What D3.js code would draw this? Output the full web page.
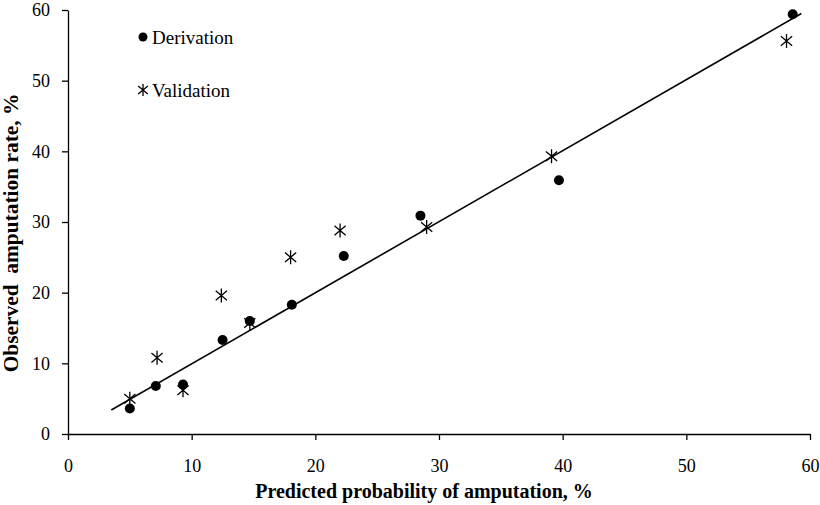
<!DOCTYPE html>
<html><head><meta charset="utf-8">
<script src="https://cdn.jsdelivr.net/npm/d3@7"></script>
<style>
body{margin:0;background:#fff;}
svg{display:block;font-family:"Liberation Serif","Times New Roman",serif;}
</style></head>
<body><svg id="c" width="820" height="505"></svg>
<script>
const xTicks = [0, 10, 20, 30, 40, 50, 60];
const yTicks = [0, 10, 20, 30, 40, 50, 60];
const derivX = [5.0, 7.1, 9.3, 12.5, 14.7, 18.1, 22.3, 28.5, 39.7, 58.6];
const derivY = [3.6, 6.8, 7.0, 13.3, 16.0, 18.3, 25.2, 30.9, 35.9, 59.4];
const validX = [5.0, 7.2, 9.3, 12.4, 14.7, 18.0, 22.0, 29.0, 39.1, 58.1];
const validY = [5.0, 10.8, 6.2, 19.6, 15.7, 25.0, 28.8, 29.3, 39.3, 55.6];
const lineX = [3.5, 59.3];
const lineY = [3.4, 59.5];
const legendLabels = ["Derivation", "Validation"];
const xTitle = "Predicted probability of amputation, %";
const yTitle = "Observed\u00a0\u00a0amputation rate, %";

const svg = d3.select("#c");
const x = d3.scaleLinear().domain([0, 60]).range([68, 810]);
const y = d3.scaleLinear().domain([0, 60]).range([434, 10]);

const gx = svg.append("g").attr("transform", "translate(0,434)")
  .call(d3.axisBottom(x).tickValues(xTicks).tickSize(6).tickPadding(19).tickSizeOuter(0));
const gy = svg.append("g").attr("transform", "translate(68,0)")
  .call(d3.axisLeft(y).tickValues(yTicks).tickSize(6).tickPadding(12).tickSizeOuter(0));
[gx, gy].forEach(g => {
  g.select(".domain").attr("stroke", "#000").attr("stroke-width", 1.3);
  g.selectAll(".tick line").attr("stroke", "#000").attr("stroke-width", 1.3);
  g.selectAll(".tick text").attr("font-family", "Liberation Serif").attr("font-size", 18).attr("fill", "#000");
});

svg.append("line")
  .attr("x1", x(lineX[0])).attr("y1", y(lineY[0]))
  .attr("x2", x(lineX[1])).attr("y2", y(lineY[1]))
  .attr("stroke", "#000").attr("stroke-width", 1.6);

const deriv = derivX.map((v, i) => ({x: v, y: derivY[i]}));
const valid = validX.map((v, i) => ({x: v, y: validY[i]}));

svg.append("g").selectAll("circle").data(deriv).join("circle")
  .attr("cx", d => x(d.x)).attr("cy", d => y(d.y)).attr("r", 5).attr("fill", "#000");

function star(cx, cy, r) {
  const a = r * 0.8, b = r * 0.68;
  return `M${cx},${cy - r}L${cx},${cy + r}M${cx - a},${cy - b}L${cx + a},${cy + b}M${cx - a},${cy + b}L${cx + a},${cy - b}`;
}
svg.append("g").selectAll("path").data(valid).join("path")
  .attr("d", d => star(x(d.x), y(d.y), 7))
  .attr("stroke", "#000").attr("stroke-width", 1.3).attr("fill", "none");

// legend
svg.append("circle").attr("cx", 143).attr("cy", 37).attr("r", 4.5).attr("fill", "#000");
svg.append("path").attr("d", star(143, 90, 6)).attr("stroke", "#000").attr("stroke-width", 1.3).attr("fill", "none");
svg.selectAll("text.leg").data(legendLabels).join("text").attr("class", "leg")
  .attr("x", 152).attr("y", (d, i) => i === 0 ? 43.5 : 96.5)
  .attr("font-size", 19).attr("fill", "#000").text(d => d);

svg.append("text").attr("x", 424).attr("y", 498).attr("text-anchor", "middle")
  .attr("font-weight", "bold").attr("font-size", 20).attr("fill", "#000").text(xTitle);
svg.append("text").attr("transform", "translate(18,233) rotate(-90) scale(1.07,1)").attr("text-anchor", "middle")
  .attr("font-weight", "bold").attr("font-size", 20).attr("fill", "#000").text(yTitle);
</script></body></html>
